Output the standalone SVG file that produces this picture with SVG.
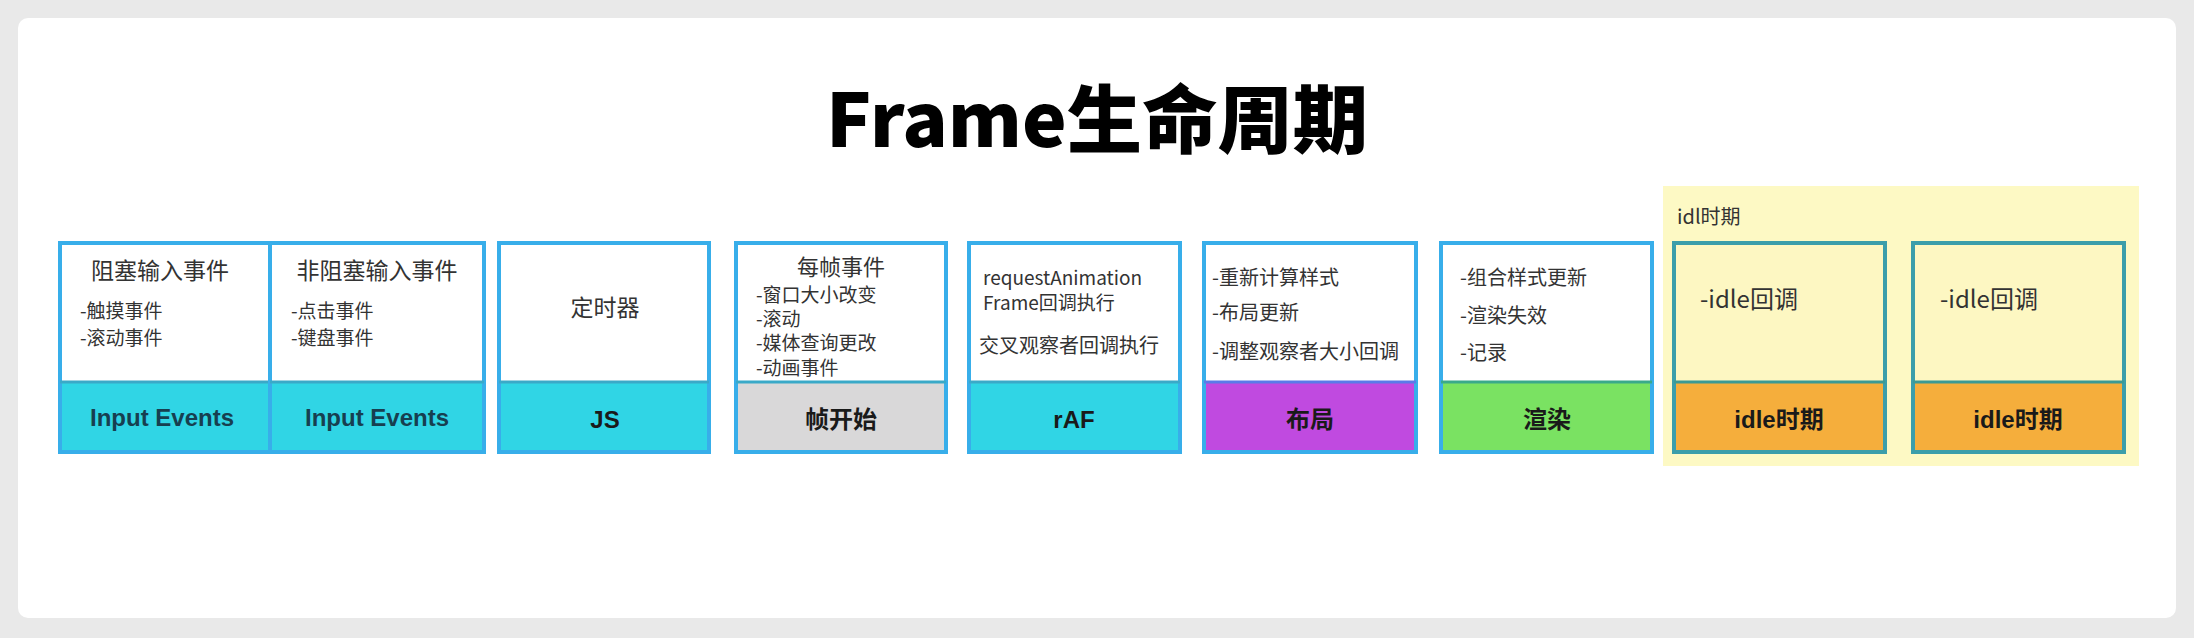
<svg xmlns="http://www.w3.org/2000/svg" width="2194" height="638" viewBox="0 0 2194 638">
<style>
.box{fill:#ffffff;stroke:#38aeea;stroke-width:4}
.idlebox{fill:#fdf7c2;stroke:#3b9eaa;stroke-width:4}
.div{stroke:#3aa9c8;stroke-width:3}
.t{font-family:"Noto Sans CJK SC","Liberation Sans",sans-serif;fill:#333333}
.h{font-size:23px}
.s{font-size:19px}
.m{font-size:20px}
.n{font-size:19px}
.bar{font-family:"Liberation Sans","Noto Sans CJK SC",sans-serif;font-weight:bold;font-size:24px;fill:#1a1a1a;text-anchor:middle}
.c{text-anchor:middle}
</style>
<rect x="0" y="0" width="2194" height="638" fill="#e9e9e9"/>
<rect x="18" y="18" width="2158" height="600" rx="10" fill="#ffffff"/>
<text x="1097" y="147" text-anchor="middle" font-family="'Noto Sans CJK SC',sans-serif" font-weight="900" font-size="74" textLength="542" lengthAdjust="spacingAndGlyphs" fill="#000000">Frame生命周期</text>
<g id="idle-area">
<rect x="1663" y="186" width="476" height="280" fill="#fdf9c4"/>
<text class="t" x="1677" y="224" font-size="20">idl时期</text>
</g>
<g id="node-blocking">
<rect class="box" x="60" y="243" width="210" height="209"/>
<rect x="62" y="382" width="206" height="68" fill="#30d5e5"/>
<line class="div" x1="60" y1="382" x2="270" y2="382"/>
<text class="t h c" x="160" y="279">阻塞输入事件</text>
<text class="t s" x="80" y="318">-触摸事件</text>
<text class="t s" x="80" y="345">-滚动事件</text>
<text class="bar" x="162" y="426" style="fill:#173f50">Input Events</text>
</g>
<g id="node-nonblocking">
<rect class="box" x="270" y="243" width="214" height="209"/>
<rect x="272" y="382" width="210" height="68" fill="#30d5e5"/>
<line class="div" x1="270" y1="382" x2="484" y2="382"/>
<text class="t h c" x="377" y="279">非阻塞输入事件</text>
<text class="t s" x="291" y="318">-点击事件</text>
<text class="t s" x="291" y="345">-键盘事件</text>
<text class="bar" x="377" y="426" style="fill:#173f50">Input Events</text>
</g>
<g id="node-js">
<rect class="box" x="499" y="243" width="210" height="209"/>
<rect x="501" y="382" width="206" height="68" fill="#30d5e5"/>
<line class="div" x1="499" y1="382" x2="709" y2="382"/>
<text class="t h c" x="605" y="316">定时器</text>
<text class="bar" x="605" y="428">JS</text>
</g>
<g id="node-framestart">
<rect class="box" x="736" y="243" width="210" height="209"/>
<text class="t c" x="841" y="275" font-size="22">每帧事件</text>
<text class="t n" x="756" y="302">-窗口大小改变</text>
<text class="t n" x="756" y="326">-滚动</text>
<text class="t n" x="756" y="350">-媒体查询更改</text>
<text class="t n" x="756" y="375">-动画事件</text>
<rect x="738" y="382" width="206" height="68" fill="#d9d8d9"/>
<line class="div" x1="736" y1="382" x2="946" y2="382"/>
<text class="bar" x="841" y="428">帧开始</text>
</g>
<g id="node-raf">
<rect class="box" x="969" y="243" width="211" height="209"/>
<rect x="971" y="382" width="207" height="68" fill="#30d5e5"/>
<line class="div" x1="969" y1="382" x2="1180" y2="382"/>
<text class="t n" x="983" y="285">requestAnimation</text>
<text class="t n" x="983" y="310">Frame回调执行</text>
<text class="t m" x="979" y="353">交叉观察者回调执行</text>
<text class="bar" x="1074" y="428">rAF</text>
</g>
<g id="node-layout">
<rect class="box" x="1204" y="243" width="212" height="209"/>
<rect x="1206" y="382" width="208" height="68" fill="#c04ae0"/>
<line class="div" x1="1204" y1="382" x2="1416" y2="382" style="stroke:#5a7ae8"/>
<text class="t m" x="1212" y="285">-重新计算样式</text>
<text class="t m" x="1212" y="320">-布局更新</text>
<text class="t m" x="1212" y="359">-调整观察者大小回调</text>
<text class="bar" x="1310" y="428">布局</text>
</g>
<g id="node-paint">
<rect class="box" x="1441" y="243" width="211" height="209"/>
<rect x="1443" y="382" width="207" height="68" fill="#7ae262"/>
<line class="div" x1="1441" y1="382" x2="1652" y2="382" style="stroke:#3aa98a"/>
<text class="t m" x="1460" y="285">-组合样式更新</text>
<text class="t m" x="1460" y="323">-渲染失效</text>
<text class="t m" x="1460" y="360">-记录</text>
<text class="bar" x="1547" y="428">渲染</text>
</g>
<g id="node-idle1">
<rect class="idlebox" x="1674" y="243" width="211" height="209"/>
<rect x="1676" y="382" width="207" height="68" fill="#f5ae3c"/>
<line class="div" x1="1674" y1="382" x2="1885" y2="382" style="stroke:#3b9a94"/>
<text class="t" x="1700" y="308" font-size="24">-idle回调</text>
<text class="bar" x="1779" y="428">idle时期</text>
</g>
<g id="node-idle2">
<rect class="idlebox" x="1913" y="243" width="211" height="209"/>
<rect x="1915" y="382" width="207" height="68" fill="#f5ae3c"/>
<line class="div" x1="1913" y1="382" x2="2124" y2="382" style="stroke:#3b9a94"/>
<text class="t" x="1940" y="308" font-size="24">-idle回调</text>
<text class="bar" x="2018" y="428">idle时期</text>
</g>
<g id="connectors"></g>
</svg>
